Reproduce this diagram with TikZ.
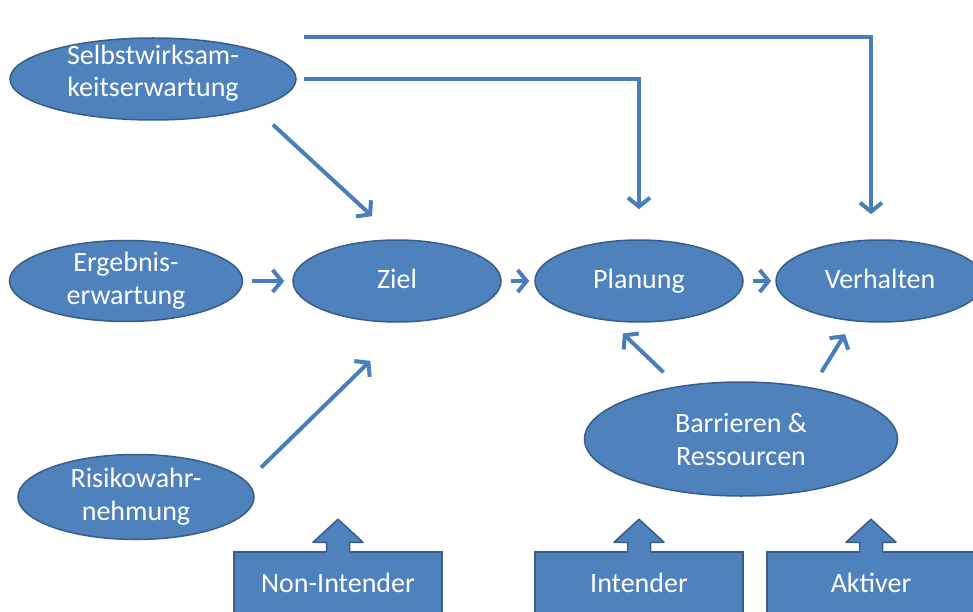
\documentclass[tikz,border=0pt]{standalone}
\usepackage{fontspec}
\setmainfont{Carlito}
\usetikzlibrary{shapes.geometric,arrows.meta}
\definecolor{boxblue}{HTML}{4F81BD}
\definecolor{edgeblue}{HTML}{385D8A}
\definecolor{arrowblue}{HTML}{4A7EBB}
\tikzset{
  blob/.style={ellipse,draw=edgeblue,fill=boxblue,line width=1.5pt,text=white,
    inner sep=0pt,align=center,font=\fontsize{28}{33}\selectfont},
  oneline/.style={text height=18pt,text depth=4pt},
  group/.style={rectangle,draw=edgeblue,fill=boxblue,line width=1.5pt,text=white,
    minimum width=208pt,minimum height=62pt,text height=20pt,text depth=2pt,
    font=\fontsize{28}{33}\selectfont},
  arr/.style={draw=arrowblue,line width=4pt,-{Straight Barb[length=9pt,width=22pt]}}
}
\begin{document}
\begin{tikzpicture}[x=1pt,y=-1pt]

  \useasboundingbox (0,0) rectangle (973,612);
  \clip (0,0) rectangle (973,612);

  \node (selbst) at (153,79) [blob,minimum width=286pt,minimum height=82pt]
    {\raisebox{-1.5pt}[0pt][0pt]{\renewcommand{\arraystretch}{0.97}\begin{tabular}{@{}c@{}}Selbstwirksam-\\keitserwartung\end{tabular}}};
  \node (ergebnis) at (126,281) [blob,minimum width=233pt,minimum height=80pt]{Ergebnis-\\erwartung};
  \node (ziel) at (397,281) [blob,oneline,minimum width=208pt,minimum height=82pt]{Ziel};
  \node (planung) at (639,281) [blob,oneline,minimum width=208pt,minimum height=82pt]{Planung};
  \node (verhalten) at (880,281) [blob,oneline,minimum width=208pt,minimum height=82pt]{Verhalten};
  \node (barrieren) at (741,439) [blob,minimum width=313pt,minimum height=114pt]{Barrieren \&\\Ressourcen};
  \node (risiko) at (136,497) [blob,minimum width=236pt,minimum height=85pt]{Risikowahr-\\nehmung};

  \node (nonint) at (338,583) [group]{Non-Intender};
  \node (intender) at (639,583) [group]{Intender};
  \node (aktiver) at (871,583) [group]{Aktiver};

  % arrow heads on top of the boxes
  \foreach \b in {nonint,intender,aktiver}{
    \fill[boxblue] ([xshift=-11.5pt,yshift=-2pt]\b.north) -- ++(0,-11) -- ++(-13.5,0) -- ++(25,-23)
      -- ++(25,23) -- ++(-13.5,0) -- ++(0,11) -- cycle;
    \draw[edgeblue,line width=1.5pt,line join=round] ([xshift=-11.5pt]\b.north) -- ++(0,-9) -- ++(-13.5,0)
      -- ++(25,-23) -- ++(25,23) -- ++(-13.5,0) -- ++(0,9);
  }

  \draw[arr,shorten <=9pt,shorten >=8pt] (ergebnis.east) -- (ziel.west);
  \draw[arr,shorten <=9pt,shorten >=5pt] (ziel.east) -- (planung.west);
  \draw[arr,shorten <=9pt,shorten >=4pt] (planung.east) -- (verhalten.west);

  \draw[arr,shorten <=7pt,shorten >=30pt] (selbst.east) -| (planung.north);
  \draw[arr,shorten <=7pt,shorten >=25pt] (selbst.east |- selbst.north) -| ([xshift=-9pt]verhalten.north);
  \draw[arr,shorten <=24pt,shorten >=34pt] (selbst.-16.5) -- (ziel.north);

  \draw[arr,shorten <=20pt,shorten >=55pt] (risiko.8) -- (ziel.-73);
  \draw[arr,shorten <=20pt,shorten >=18pt] (barrieren.140) -- (planung.-126);
  \draw[arr,shorten <=18pt,shorten >=15pt] (barrieren.36) -- (verhalten.-124.5);

\end{tikzpicture}
\end{document}
